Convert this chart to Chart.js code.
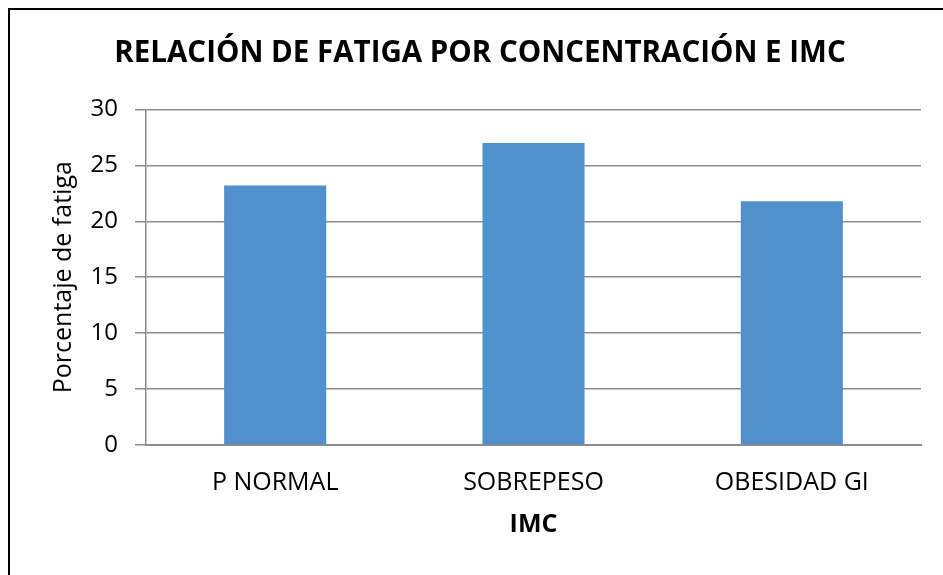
<!DOCTYPE html>
<html>
<head>
<meta charset="utf-8">
<script src="https://cdn.jsdelivr.net/npm/chart.js@4"></script>
<style>
  body { margin: 0; background: #fff; overflow: hidden; }
  #frame { position: absolute; left: 8px; top: 8px; width: 1000px; height: 1000px;
           border-left: 2px solid #000; border-top: 2px solid #000; }
  #wrap { position: absolute; left: 0; top: 0; width: 943px; height: 575px; }
</style>
</head>
<body>
<div id="frame"></div>
<div id="wrap"><canvas id="myCanvas"></canvas></div>
<script>
// datos del grafico
let categorias = ['P NORMAL', 'SOBREPESO', 'OBESIDAD GI'];
let porcentajes = [23.2, 27.0, 21.8];
let titulo = 'RELACIÓN DE FATIGA POR CONCENTRACIÓN E IMC';

let gris = '#8c8c8c';
let fuente = "'Open Sans', 'Noto Sans', sans-serif";

let grafica = document.getElementById('myCanvas').getContext('2d');

let myChart = new Chart(grafica, {
    type: 'bar',
    data: {
        labels: categorias,
        datasets: [{
            label: '',
            data: porcentajes,
            backgroundColor: '#4f90cd',
            borderWidth: 0,
            categoryPercentage: 1,
            barPercentage: 0.395
        }]
    },
    options: {
        responsive: true,
        maintainAspectRatio: false,
        animation: false,
        layout: { padding: { left: 39, right: 22, top: 0, bottom: 31 } },
        plugins: {
            legend: { display: false },
            tooltip: { enabled: false },
            title: {
                display: true,
                text: titulo,
                color: '#000',
                font: { family: fuente, size: 29.5, weight: 'bold' },
                padding: { top: 36, bottom: 38 }
            }
        },
        scales: {
            x: {
                afterFit: (scale) => { scale.height = 99; },
                grid: { display: false },
                border: { display: true, color: gris, width: 2 },
                ticks: { color: '#000', font: { family: fuente, size: 25 }, padding: 15 },
                title: {
                    display: true,
                    text: 'IMC',
                    color: '#000',
                    font: { family: fuente, size: 25, weight: 'bold' }
                }
            },
            y: {
                min: 0,
                max: 30,
                afterFit: (scale) => { scale.width = 107; },
                grid: { color: gris, lineWidth: 1.5, tickLength: 11 },
                border: { display: true, color: gris, width: 1.5 },
                ticks: { stepSize: 5, color: '#000', font: { family: fuente, size: 24 }, padding: 17 },
                title: {
                    display: true,
                    text: 'Porcentaje de fatiga',
                    color: '#000',
                    font: { family: fuente, size: 25 },
                    padding: { top: 10, bottom: 4 }
                }
            }
        }
    }
});
</script>
</body>
</html>
